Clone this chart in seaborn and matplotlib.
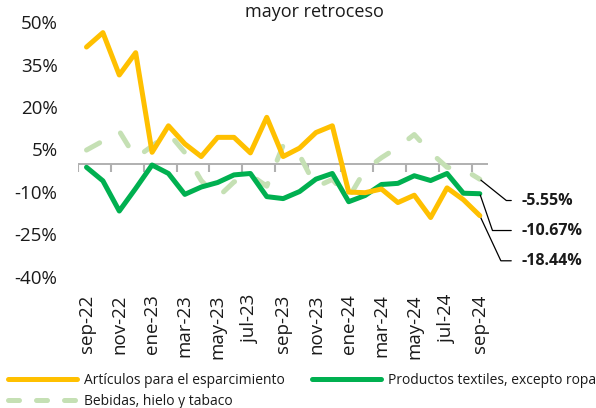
import numpy as np
import pandas as pd
import matplotlib
matplotlib.use("Agg")
import matplotlib.pyplot as plt
import seaborn as sns
from matplotlib.lines import Line2D
from matplotlib.ticker import FuncFormatter

meses = ["sep-22", "oct-22", "nov-22", "dic-22", "ene-23", "feb-23", "mar-23", "abr-23",
         "may-23", "jun-23", "jul-23", "ago-23", "sep-23", "oct-23", "nov-23", "dic-23",
         "ene-24", "feb-24", "mar-24", "abr-24", "may-24", "jun-24", "jul-24", "ago-24", "sep-24"]
esparcimiento = [41.3, 46.4, 31.4, 39.3, 4.0, 13.4, 7.0, 2.5, 9.3, 9.3, 3.8, 16.4, 2.5,
                 5.5, 11.0, 13.4, -10.1, -10.3, -9.0, -13.8, -11.2, -19.1, -8.6, -12.8, -18.44]
textiles = [-1.3, -6.1, -16.8, -8.8, -0.5, -3.5, -10.9, -8.3, -6.7, -4.0, -3.5, -11.7, -12.4,
            -9.9, -5.5, -3.5, -13.5, -11.3, -7.4, -7.0, -4.3, -6.0, -3.5, -10.5, -10.67]
bebidas = [4.8, 8.0, 11.5, 2.0, 6.2, 10.8, 3.9, -6.0, -12.0, -6.5, -4.0, -8.0, 6.5,
           3.0, -8.3, -5.6, -12.1, -2.2, 2.1, 5.8, 10.3, 3.9, -1.3, -2.0, -5.55]
yticks = [-40, -25, -10, 5, 20, 35, 50]

amarillo = "#FFC000"
verde = "#00B050"
verde_claro = "#C5E0B4"
gris = "#B0B0B0"

sns.set_style("white")
plt.rcParams["font.family"] = ["Open Sans", "DejaVu Sans"]

x = np.arange(len(meses))
fig = plt.figure(figsize=(5.96, 4.08), dpi=100)
ax = fig.add_axes([0.1314, 0.3223, 0.6874, 0.6226])

sns.lineplot(x=x, y=bebidas, ax=ax, color=verde_claro, lw=3.6,
             linestyle=(0, (3.0, 5.0)), dash_capstyle="round", zorder=2)
sns.lineplot(x=x, y=textiles, ax=ax, color=verde, lw=3.6, zorder=3)
sns.lineplot(x=x, y=esparcimiento, ax=ax, color=amarillo, lw=3.6, zorder=4)

ax.set_xlim(-0.5, len(meses) - 0.5)
ax.set_ylim(-40, 50)

# eje horizontal en cero con marcas cada dos meses (entre categorias)
ax.axhline(0, color=gris, lw=1.4, zorder=1)
for b in np.arange(-0.5, len(meses) - 1, 2):
    ax.plot([b, b], [0, -2.8], color=gris, lw=1.5, zorder=1.5, solid_capstyle="butt")

ax.set_yticks(yticks)
ax.yaxis.set_major_formatter(FuncFormatter(lambda v, p: f"{v:.0f}%"))
ax.tick_params(axis="y", left=False, length=0, pad=15, labelsize=13.5, labelcolor="#1a1a1a")

sns.despine(ax=ax, left=True, bottom=True)
ax.set_xticks(x[::2])
ax.set_xticklabels(meses[::2], rotation=90)
ax.tick_params(axis="x", bottom=False, length=0, pad=13, labelsize=13.5,
               labelcolor="#1a1a1a")

# etiquetas finales
finales = [(bebidas[-1], 30, -15.3, -38.7), (textiles[-1], 30, -26.5, -71),
           (esparcimiento[-1], 30, -32.5, -65)]
for val, dx, dy, ang in finales:
    ax.annotate(f"{val:.2f}%", xy=(x[-1], val), xytext=(dx, dy), textcoords="offset points",
                ha="left", va="center", fontsize=11.5, fontweight="bold", color="#1a1a1a",
                annotation_clip=False,
                arrowprops=dict(arrowstyle="-", color="black", lw=0.9, shrinkA=5, shrinkB=1,
                                connectionstyle=f"angle,angleA=0,angleB={ang},rad=0"))

fig.text(314 / 596, 1 - 17 / 408, "mayor retroceso", ha="center", va="baseline",
         fontsize=13, color="#1a1a1a")

handles = [Line2D([], [], color=amarillo, lw=3.6),
           Line2D([], [], color=verde_claro, lw=3.6, linestyle=(0, (2.2, 3.4)),
                  dash_capstyle="round"),
           Line2D([], [], color=verde, lw=3.6)]
labels = ["Artículos para el esparcimiento", "Bebidas, hielo y tabaco",
          "Productos textiles, excepto ropa"]
fig.legend(handles, labels, loc="upper left", bbox_to_anchor=(8 / 596, 1 - 373 / 408),
           ncol=2, frameon=False, fontsize=10, handlelength=5.0, handletextpad=0.5,
           columnspacing=1.9, borderpad=0, borderaxespad=0, labelspacing=0.45,
           labelcolor="#1a1a1a")

fig.savefig("out.png", dpi=100)
